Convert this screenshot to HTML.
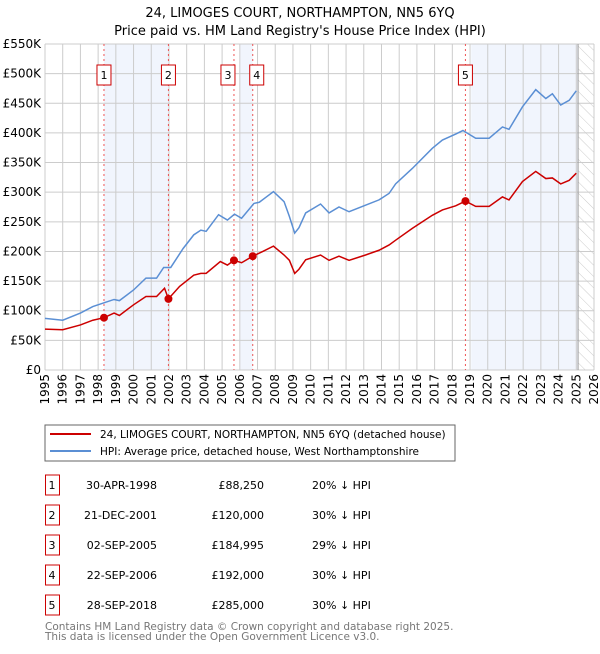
<!DOCTYPE html>
<html><head><meta charset="utf-8"><style>
body{margin:0;background:#fff;font-family:"DejaVu Sans","Liberation Sans",sans-serif;}
svg text{font-family:"DejaVu Sans","Liberation Sans",sans-serif;}
</style></head><body>
<svg id="chart" width="600" height="650" viewBox="0 0 600 650" xmlns="http://www.w3.org/2000/svg">
<defs>
<pattern id="hatch" width="8" height="8" patternUnits="userSpaceOnUse" patternTransform="rotate(-45)">
<line x1="0" y1="0" x2="0" y2="8" stroke="#ccc" stroke-width="1"/></pattern>
</defs>
<text x="300" y="17" text-anchor="middle" font-size="13">24, LIMOGES COURT, NORTHAMPTON, NN5 6YQ</text>
<text x="300" y="35" text-anchor="middle" font-size="13">Price paid vs. HM Land Registry's House Price Index (HPI)</text>
<g id="plot"></g>
<rect x="45" y="425" width="410" height="36" fill="#fff" stroke="#666"/>
<line x1="50" y1="434" x2="91" y2="434" stroke="#cc0000" stroke-width="2"/>
<text x="100" y="438" font-size="10.5">24, LIMOGES COURT, NORTHAMPTON, NN5 6YQ (detached house)</text>
<line x1="50" y1="451" x2="91" y2="451" stroke="#5b8fd4" stroke-width="2"/>
<text x="100" y="455" font-size="10.5">HPI: Average price, detached house, West Northamptonshire</text>
<g id="table"></g>
<text x="45" y="630" font-size="10.5" fill="#777">Contains HM Land Registry data © Crown copyright and database right 2025.</text>
<text x="45" y="640" font-size="10.5" fill="#777">This data is licensed under the Open Government Licence v3.0.</text>
</svg>
<script>
const years=[];for(let y=1995;y<=2026;y++)years.push(y);
const yTicks=[0,50,100,150,200,250,300,350,400,450,500,550];
const yTickLabels=["£0","£50K","£100K","£150K","£200K","£250K","£300K","£350K","£400K","£450K","£500K","£550K"];
const hpiT=[1995,1996,1997,1997.7,1998.5,1998.9,1999.2,2000,2000.7,2001.3,2001.7,2002.1,2002.8,2003.4,2003.8,2004.1,2004.8,2005.3,2005.7,2006.1,2006.8,2007.1,2007.5,2007.9,2008.5,2008.8,2009.1,2009.34,2009.72,2010.56,2011.04,2011.6,2012.17,2013.1,2013.86,2014.43,2014.8,2015.74,2016.87,2017.44,2018.19,2018.6,2019.32,2020.08,2020.83,2021.2,2021.96,2022.71,2023.28,2023.65,2024.12,2024.6,2025.0];
const hpiV=[87,84,96,107,115,119,117,135,155,155,173,173,205,228,236,234,262,253,263,256,281,283,292,301,284,259,231,240,265,280,265,275,267,278,287,298,314,340,374,388,398,404,391,391,410,406,444,473,458,466,447,455,471];
const redT=[1995,1996,1997,1997.7,1998.33,1998.9,1999.2,2000,2000.7,2001.3,2001.75,2001.97,2002.6,2003.4,2003.8,2004.1,2004.9,2005.3,2005.67,2006.1,2006.73,2007.3,2007.9,2008.5,2008.8,2009.1,2009.34,2009.72,2010.56,2011.04,2011.6,2012.17,2013.1,2013.86,2014.43,2014.8,2015.74,2016.87,2017.44,2018.19,2018.74,2019.32,2020.08,2020.83,2021.2,2021.96,2022.71,2023.28,2023.65,2024.12,2024.6,2025.0];
const redV=[69,68,76,84,88.25,96,92,110,124,124,138,120,141,160,163,163,183,177,185,181,192,200,209,194,185,163,170,186,194,185,192,185,194,202,211,219,239,261,270,277,285,276,276,292,287,318,335,323,324,314,320,332];
const saleIds=["1","2","3","4","5"];
const saleT=[1998.33,2001.97,2005.67,2006.73,2018.74];
const saleV=[88.25,120,184.995,192,285];
const saleDates=["30-APR-1998","21-DEC-2001","02-SEP-2005","22-SEP-2006","28-SEP-2018"];
const salePrices=["£88,250","£120,000","£184,995","£192,000","£285,000"];
const salePct=["20% ↓ HPI","30% ↓ HPI","29% ↓ HPI","30% ↓ HPI","30% ↓ HPI"];
const shadeStart=[1998.33,2006.0,2019.07];
const shadeEnd=[2001.97,2006.73,2025.1];
const dataEnd=2025.1;

const X0=45,X1=594,Y0=370,Y1=44;
const xs=t=>X0+(t-1995)*(X1-X0)/31;
const ys=v=>Y0-v*(Y0-Y1)/550;
const NS="http://www.w3.org/2000/svg";
const plot=document.getElementById('plot');
function mk(tag,attrs,parent){const e=document.createElementNS(NS,tag);for(const k in attrs)e.setAttribute(k,attrs[k]);(parent||plot).appendChild(e);return e;}

for(let i=0;i<shadeStart.length;i++){
 const r=mk('rect',{x:xs(shadeStart[i]),y:Y1,width:xs(shadeEnd[i])-xs(shadeStart[i]),height:Y0-Y1,fill:'#eef3fc',opacity:0.8});
 
 
}
const h=mk('rect',{x:xs(dataEnd),y:Y1,width:X1-xs(dataEnd),height:Y0-Y1,fill:'url(#hatch)'});


years.forEach(y=>{
 const l=mk('line',{x1:xs(y),x2:xs(y),y1:Y1,y2:Y0,stroke:'#ccc','stroke-width':1});
 
 
 const t=mk('text',{x:0,y:0,'font-size':12,'text-anchor':'end',transform:`translate(${xs(y)+4},${Y0+4}) rotate(-90)`});
 t.textContent=y;
 
 
});
yTicks.forEach((v,i)=>{
 const l=mk('line',{x1:X0,x2:X1,y1:ys(v),y2:ys(v),stroke:'#ccc','stroke-width':1});
 
 
 const t=mk('text',{x:X0-4,y:ys(v)+4,'font-size':12,'text-anchor':'end'});
 t.textContent=yTickLabels[i];
 
 
});
const vl=mk('line',{x1:xs(dataEnd),x2:xs(dataEnd),y1:Y1,y2:Y0,stroke:'#999','stroke-width':1});


saleT.forEach((t,i)=>{
 const l=mk('line',{x1:xs(t),x2:xs(t),y1:Y1,y2:Y0,stroke:'#e55','stroke-width':1,'stroke-dasharray':'2,3'});
 
 
});
const hp=mk('polyline',{points:hpiT.map((t,i)=>xs(t)+','+ys(hpiV[i])).join(' '),fill:'none',stroke:'#5b8fd4','stroke-width':1.5});


const rp=mk('polyline',{points:redT.map((t,i)=>xs(t)+','+ys(redV[i])).join(' '),fill:'none',stroke:'#cc0000','stroke-width':1.5});


saleT.forEach((t,i)=>{
 const c=mk('circle',{cx:xs(t),cy:ys(saleV[i]),r:4,fill:'#cc0000'});
 
 
 const bx=(i===2)?xs(t)-13:(i===3?xs(t)-3:xs(t)-7);
 const b=mk('rect',{x:bx,y:65,width:14,height:20,fill:'#fff',stroke:'#cc0000'});
 
 
 const tx=mk('text',{x:bx+7,y:79,'font-size':11,'text-anchor':'middle'});
 tx.textContent=saleIds[i];
 
 
});
const tb=document.getElementById('table');
saleIds.forEach((id,i)=>{
 const cy=485+i*30;
 const b=mk('rect',{x:45.5,y:cy-10,width:14,height:20,fill:'#fff',stroke:'#cc0000'},tb);
 
 
 const cells=[[52,'middle',id],[157,'end',saleDates[i]],[264,'end',salePrices[i]],[312,'start',salePct[i]]];
 cells.forEach(c=>{
  const t=mk('text',{x:c[0],y:cy+4,'font-size':11,'text-anchor':c[1]},tb);
  t.textContent=c[2];
  
  
 });
});
</script>
</body></html>
